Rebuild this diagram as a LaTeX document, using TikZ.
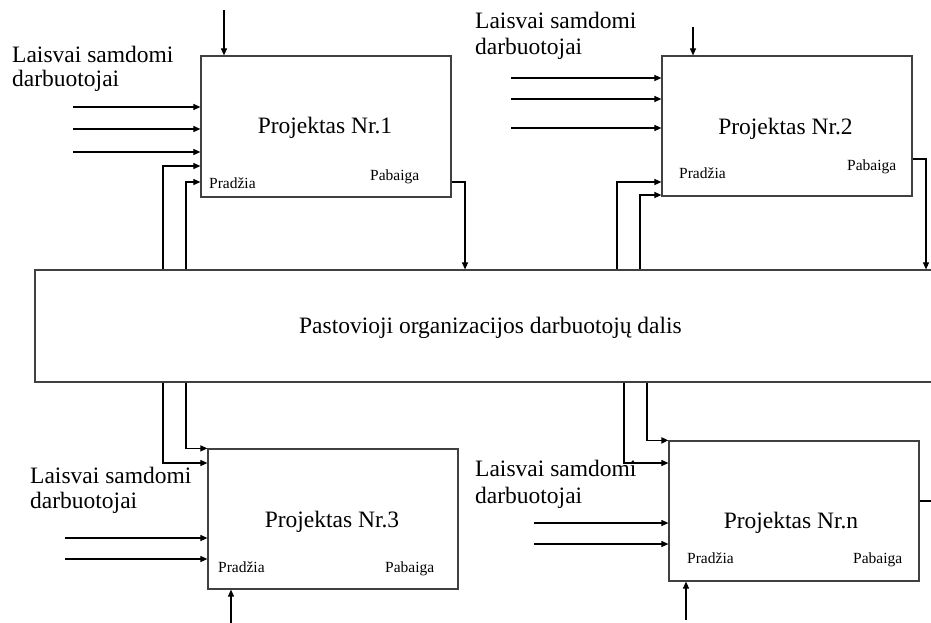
\documentclass[tikz,border=0pt]{standalone}
\usepackage{fontspec}
\setmainfont{Liberation Serif}
\usetikzlibrary{arrows.meta}
\begin{document}
\begin{tikzpicture}[x=1pt,y=-1pt,
  box/.style={draw=black!75, line width=1.2pt, rectangle, inner sep=0pt,
              minimum width=250pt, minimum height=140pt},
  conn/.style={line width=1.1pt, -{Triangle[length=7pt,width=6pt]}},
  plain/.style={line width=1.1pt},
  big/.style={font=\fontsize{23.5}{25}\selectfont, inner sep=0pt, anchor=base},
  lab/.style={font=\fontsize{23.5}{25}\selectfont, inner sep=0pt, anchor=base west},
  small/.style={font=\fontsize{15.5}{17}\selectfont, inner sep=0pt, anchor=base west},
]
\useasboundingbox (0,0) rectangle (931,623);
\clip (0,0) rectangle (931,623);

% project boxes and the permanent staff block
\node[box, minimum height=141pt] (p1) at (326,126.5) {};
\node[box] (p2) at (787,126) {};
\node[box] (p3) at (333,519) {};
\node[box] (pn) at (794,511) {};
\node[box, minimum width=990pt, minimum height=112pt] (org) at (530,326) {};

% box titles
\node[big] (t1) at (325,134) {Projektas Nr.1};
\node[big] (t2) at (785.5,135) {Projektas Nr.2};
\node[big] (t3) at (332,527) {Projektas Nr.3};
\node[big] (tn) at (791,528) {Projektas Nr.n};
\node[big] (torg) at (490.5,333) {Pastovioji organizacijos darbuotojų dalis};

% freelancer labels
\node[lab] (l1a) at (12,62.7) {Laisvai samdomi};
\node[lab] (l1b) at (12,86.7) {darbuotojai};
\node[lab] (l2a) at (475,29) {Laisvai samdomi};
\node[lab] (l2b) at (475,55) {darbuotojai};
\node[lab] (l3a) at (30,483) {Laisvai samdomi};
\node[lab] (l3b) at (30,508) {darbuotojai};
\node[lab] (lna) at (475,476) {Laisvai samdomi};
\node[lab] (lnb) at (475,503) {darbuotojai};

% start / end markers
\node[small] (s1a) at (209,188) {Pradžia};
\node[small] (s1b) at (370,180) {Pabaiga};
\node[small] (s2a) at (679,178) {Pradžia};
\node[small] (s2b) at (847,170) {Pabaiga};
\node[small] (s3a) at (218,572) {Pradžia};
\node[small] (s3b) at (385,572) {Pabaiga};
\node[small] (sna) at (687,563) {Pradžia};
\node[small] (snb) at (853,563) {Pabaiga};

% free ends of the connectors
\coordinate (c1top) at (224,10);
\coordinate (c1i1) at (73,107);
\coordinate (c1i2) at (73,129);
\coordinate (c1i3) at (73,152);
\coordinate (c2top) at (693,27);
\coordinate (c2i1) at (511,78);
\coordinate (c2i2) at (511,99);
\coordinate (c2i3) at (511,128);
\coordinate (c3i1) at (65,538);
\coordinate (c3i2) at (65,559);
\coordinate (c3bot) at (231,623);
\coordinate (cni1) at (534,523);
\coordinate (cni2) at (534,544);
\coordinate (cnbot) at (686,620);
\coordinate (cnout) at (940,501);

% project 1
\draw[conn] (c1top) -- (c1top |- p1.north);
\foreach \c in {c1i1,c1i2,c1i3} \draw[conn] (\c) -- (\c -| p1.west);
\draw[conn] (163,0 |- org.north) |- (p1.west |- 0,166);
\draw[conn] (186,0 |- org.north) |- (p1.west |- 0,182);
\draw[conn] (p1.east |- 0,182) -| (465,0 |- org.north);

% project 2
\draw[conn] (c2top) -- (c2top |- p2.north);
\foreach \c in {c2i1,c2i2,c2i3} \draw[conn] (\c) -- (\c -| p2.west);
\draw[conn] (617,0 |- org.north) |- (p2.west |- 0,182);
\draw[conn] (640,0 |- org.north) |- (p2.west |- 0,195);
\draw[conn] (p2.east |- 0,159) -| (926,0 |- org.north);

% project 3
\draw[conn] (163,0 |- org.south) |- (p3.west |- 0,463);
\draw[conn] (186,0 |- org.south) |- (p3.north west);
\foreach \c in {c3i1,c3i2} \draw[conn] (\c) -- (\c -| p3.west);
\draw[conn] (c3bot) -- (c3bot |- p3.south);

% project n
\draw[conn] (624,0 |- org.south) |- (pn.west |- 0,463);
\draw[conn, line width=1.8pt] (647,0 |- org.south) |- (pn.north west);
\foreach \c in {cni1,cni2} \draw[conn] (\c) -- (\c -| pn.west);
\draw[conn] (cnbot) -- (cnbot |- pn.south);
\draw[plain] (pn.east |- 0,501) -- (cnout);
\end{tikzpicture}
\end{document}
